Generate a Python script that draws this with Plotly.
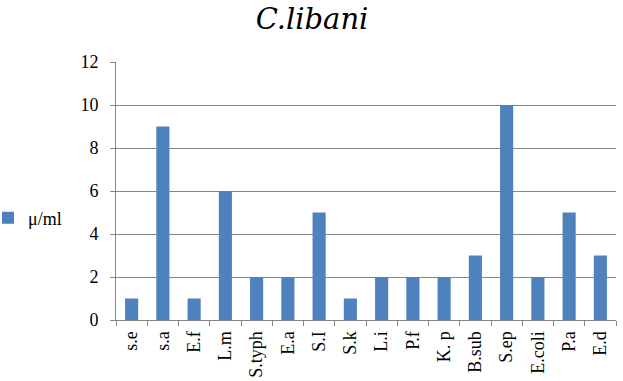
import plotly.graph_objects as go

categories = ["s.e", "s.a", "E.f", "L.m", "S.typh", "E.a", "S.I", "S.k", "L.i", "P.f",
              "K. p", "B.sub", "S.ep", "E.coli", "P.a", "E.d"]
values = [1, 9, 1, 6, 2, 2, 5, 1, 2, 2, 2, 3, 10, 2, 5, 3]
series_name = "μ/ml"
title_text = "C.libani"

W, H = 623, 381
L, R, T, B = 116, 7, 62, 61
pw = W - L - R
ph = H - T - B

fig = go.Figure()
fig.add_trace(go.Bar(x=categories, y=values, name=series_name,
                     marker=dict(color="#4F81BD", line=dict(width=0)),
                     width=0.42, showlegend=True))

font = "Liberation Serif"
fig.update_layout(
    width=W, height=H,
    margin=dict(l=L, r=R, t=T, b=B, pad=0, autoexpand=False),
    paper_bgcolor="white", plot_bgcolor="white",
    font=dict(family=font, size=18, color="black"),
    title=dict(text=title_text, x=312 / W, xanchor="center",
               y=1 - 19 / H, yanchor="middle",
               font=dict(family="DejaVu Serif", size=29, color="black", style="italic")),
    showlegend=True,
    legend=dict(x=(-12 - L) / pw, xanchor="left", y=(H - B - 218) / ph, yanchor="middle",
                font=dict(family=font, size=18, color="black"),
                bgcolor="rgba(0,0,0,0)", itemwidth=30),
    xaxis=dict(type="category", tickangle=-90, showline=True, linecolor="#868686",
               linewidth=1, ticks="outside", tickson="boundaries", ticklen=5,
               tickcolor="#868686", showgrid=False, tickfont=dict(family=font, size=18),
               ticklabelstandoff=3),
    yaxis=dict(range=[0, 12], dtick=2, showline=True, linecolor="#868686", linewidth=1,
               ticks="outside", ticklen=5, tickcolor="#868686", showgrid=True,
               gridcolor="#868686", gridwidth=1, zeroline=False,
               tickfont=dict(family=font, size=18), ticklabelstandoff=8),
    bargap=0.58,
)

fig.write_html("out.html")
